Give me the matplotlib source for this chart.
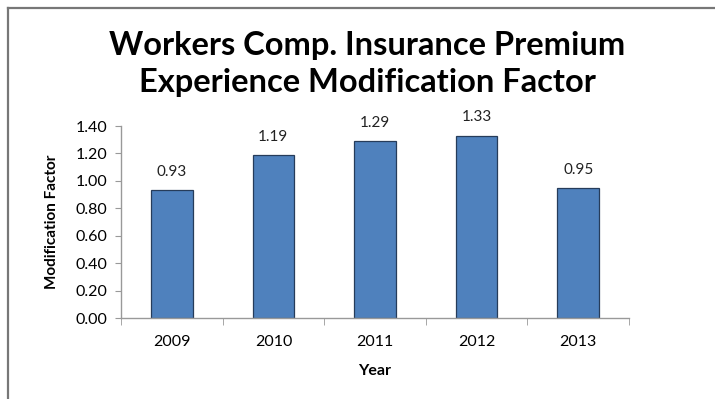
import matplotlib.pyplot as plt
import numpy as np
from matplotlib.lines import Line2D

years = ['2009', '2010', '2011', '2012', '2013']
mod_factor = [0.93, 1.19, 1.29, 1.33, 0.95]
yticks = [0.0, 0.2, 0.4, 0.6, 0.8, 1.0, 1.2, 1.4]

plt.rcParams['font.family'] = ['Lato', 'DejaVu Sans']

fig = plt.figure(figsize=(7.15, 3.99), dpi=100)
ax = fig.add_axes([121/715, 1 - 318/399, 508/715, 192/399])

x = np.arange(len(years))
ax.bar(x, mod_factor, width=0.41, color='#4F81BD', edgecolor='#263c5a', linewidth=0.9)

for xi, v in zip(x, mod_factor):
    ax.annotate('%.2f' % v, (xi, v), xytext=(0, 8), textcoords='offset points',
                ha='center', va='bottom', fontsize=11, color='#222222')

ax.set_xlim(-0.5, len(years) - 0.5)
ax.set_ylim(0, 1.4)
ax.set_yticks(yticks)
ax.set_yticklabels(['%.2f' % t for t in yticks], fontsize=11.5)
ax.set_xticks(x)
ax.set_xticklabels(years, fontsize=11.5)
ax.set_xticks(np.arange(len(years) + 1) - 0.5, minor=True)
ax.tick_params(axis='x', which='major', length=0, pad=12)
ax.tick_params(axis='x', which='minor', length=5, color='#999999')
ax.tick_params(axis='y', length=4, color='#999999', pad=6)

for s in ['top', 'right']:
    ax.spines[s].set_visible(False)
for s in ['left', 'bottom']:
    ax.spines[s].set_color('#999999')
    ax.spines[s].set_linewidth(1)

ax.set_xlabel('Year', fontsize=11.5, fontweight='bold', labelpad=11)
ax.set_ylabel('Modification Factor', fontsize=11, fontweight='bold', labelpad=12)

fig.text(0.514, 0.885, 'Workers Comp. Insurance Premium', ha='center', va='center',
         fontsize=23.5, fontweight='bold')
fig.text(0.514, 0.793, 'Experience Modification Factor', ha='center', va='center',
         fontsize=23.5, fontweight='bold')

# frame lines on the top and left edges
fig.add_artist(Line2D([8/715, 1], [1 - 8/399, 1 - 8/399], color='#777777', lw=1.6))
fig.add_artist(Line2D([8/715, 8/715], [0, 1 - 8/399], color='#777777', lw=1.6))

fig.savefig('out.png', dpi=100)
